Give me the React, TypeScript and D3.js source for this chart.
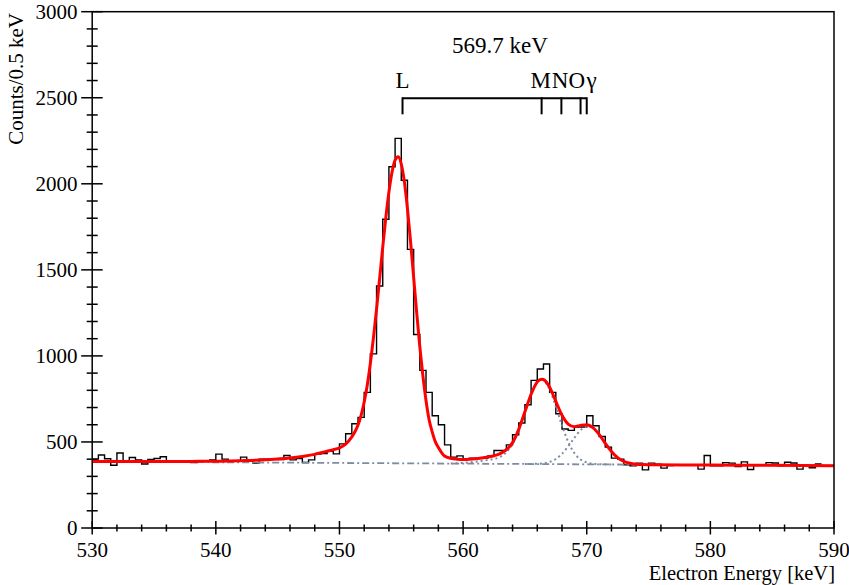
import React from "react";
import * as d3 from "d3";

// ---------- data ----------
const binLow = 530;
const binWidth = 0.5;
const counts = [
  400, 424, 402, 365, 436, 385, 410, 395, 372, 398, 404, 414, 388, 388, 390, 382, 380, 384, 390, 395,
  429, 400, 390, 390, 412, 390, 377, 400, 400, 402, 398, 421, 396, 403, 381, 396, 430, 432, 445, 431,
  489, 548, 606, 643, 788, 1012, 1406, 1794, 2099, 2264, 2021, 1619, 1124, 916, 788, 652, 600, 483, 412, 419,
  400, 406, 406, 406, 419, 450, 450, 483, 542, 610, 716, 858, 924, 953, 788, 664, 575, 567, 587, 587,
  652, 594, 532, 470, 406, 400, 367, 361, 377, 338, 377, 371, 348, 363, 365, 366, 366, 365, 342, 421,
  361, 361, 380, 377, 357, 384, 340, 367, 365, 380, 378, 361, 382, 378, 342, 364, 350, 372,
];

// total fit (red)
const fitE = [
  530, 532, 534, 536, 538, 540, 542, 544, 545, 546, 547, 548, 548.5, 549, 549.5, 550, 550.5, 551,
  551.25, 551.5, 551.75, 552, 552.25, 552.5, 552.75, 553, 553.25, 553.5, 553.75, 554, 554.25, 554.5,
  554.75, 555, 555.25, 555.5, 555.75, 556, 556.25, 556.5, 556.75, 557, 557.25, 557.5, 557.75, 558,
  558.5, 559, 559.5, 560, 560.5, 561, 561.5, 562, 562.5, 563, 563.5, 564, 564.5, 565, 565.5, 566,
  566.35, 566.5, 567, 567.5, 568, 568.5, 569, 569.5, 570, 570.5, 571, 571.5, 572, 572.5, 573, 573.5,
  574, 574.5, 575, 580, 585, 590,
];
const fitY = [
  386, 386, 386, 386, 387, 388, 391, 396, 401, 407, 416, 428, 437, 446, 455, 466, 488, 530,
  559, 598, 655, 732, 831, 957, 1106, 1272, 1451, 1632, 1804, 1952, 2067, 2137,
  2157, 2115, 2011, 1855, 1665, 1456, 1248, 1053, 882, 741, 629, 559, 502, 468,
  418, 405, 400, 398, 399, 402, 407, 413, 420, 432, 455, 496, 573, 675, 777, 849,
  865, 863, 818, 736, 655, 604, 589, 596, 600, 583, 544, 492, 445, 409, 387, 376,
  371, 369, 368, 366, 364, 362,
];

// background (dash-dot)
const bgE = [530, 590];
const bgY = [386, 362];

// M-line component (dotted)
const mE = [559, 560, 561, 562, 562.5, 563, 563.5, 564, 564.5, 565, 565.5, 566, 566.35, 566.5, 567, 567.5, 568, 568.5, 569, 569.5, 570, 570.5, 571, 572];
const mY = [375, 378, 385, 395, 401, 413, 440, 488, 568, 672, 776, 848, 861, 857, 805, 706, 595, 501, 435, 398, 381, 373, 371, 369];

// N/O-line component (dotted)
const noE = [565, 566, 566.5, 567, 567.5, 568, 568.5, 569, 569.5, 570, 570.1, 570.5, 571, 571.5, 572, 572.5, 573, 573.5, 574, 574.5, 575];
const noY = [372, 373, 376, 384, 401, 431, 474, 524, 568, 589, 590, 580, 543, 492, 445, 409, 387, 376, 371, 369, 368];

// line markers
const lineLabels = ["L", "M", "N", "O", "γ"];
const lineEnergies = [555.1, 566.35, 567.95, 569.5, 570.0];
const gammaLabel = "569.7 keV";

const xMajorTicks = [530, 540, 550, 560, 570, 580, 590];
const yMajorTicks = [0, 500, 1000, 1500, 2000, 2500, 3000];
const xMinorStep = 2;
const yMinorStep = 100;

const xTitle = "Electron Energy [keV]";
const yTitle = "Counts/0.5 keV";

// ---------- layout ----------
const W = 849;
const H = 585;
const left = 92.2;
const right = 834;
const top = 11.7;
const bottom = 528;
const FONT = "'Liberation Serif', 'Times New Roman', serif";
const COMP = "#7d8ca3";

export default function App() {
  const x = d3.scaleLinear().domain([530, 590]).range([left, right]);
  const y = d3.scaleLinear().domain([0, 3000]).range([bottom, top]);

  const histPts: [number, number][] = counts.map((c, i) => [binLow + i * binWidth, c]);
  histPts.push([binLow + counts.length * binWidth, counts[counts.length - 1]]);
  const histPath = d3
    .line<[number, number]>()
    .x((d) => x(d[0]))
    .y((d) => y(d[1]))
    .curve(d3.curveStepAfter)(histPts) as string;

  const smooth = (es: number[], ys: number[]) =>
    d3
      .line<number>()
      .x((_, i) => x(es[i]))
      .y((_, i) => y(ys[i]))
      .curve(d3.curveMonotoneX)(es.map((e) => e)) as string;

  const fitPath = smooth(fitE, fitY);
  const mPath = smooth(mE, mY);
  const noPath = smooth(noE, noY);
  const bgPath = smooth(bgE, bgY);

  const xMinor = d3.range(530, 590.001, xMinorStep).filter((v) => !xMajorTicks.includes(v));
  const yMinor = d3.range(0, 3000.001, yMinorStep).filter((v) => !yMajorTicks.includes(v));

  const barY = 98.3;
  const legBottom = 114.3;
  const xs = lineEnergies.map((e) => x(e));
  const labelXs = [xs[0], 540.8, 560, 576.7, 591.7];

  return (
    <svg
      width={W}
      height={H}
      style={{ position: "absolute", left: 0, top: 0, background: "#fff" }}
      fontFamily={FONT}
    >
      <rect x={0} y={0} width={W} height={H} fill="#fff" />
      {/* histogram */}
      <path d={histPath} fill="none" stroke="#000" strokeWidth={1.4} />
      {/* background */}
      <path d={bgPath} fill="none" stroke={COMP} strokeWidth={1.8} strokeDasharray="7,3,2,3" />
      {/* components */}
      <path d={mPath} fill="none" stroke={COMP} strokeWidth={2} strokeDasharray="2,3" />
      <path d={noPath} fill="none" stroke={COMP} strokeWidth={2} strokeDasharray="2,3" />
      {/* total fit */}
      <path d={fitPath} fill="none" stroke="#ff0000" strokeWidth={3} strokeLinejoin="round" />

      {/* frame */}
      <rect x={left} y={top} width={right - left} height={bottom - top} fill="none" stroke="#000" strokeWidth={1.5} />

      {/* x ticks */}
      {xMajorTicks.map((t) => (
        <line key={"xM" + t} x1={x(t)} x2={x(t)} y1={bottom - 7} y2={bottom + 6.5} stroke="#000" strokeWidth={1.5} />
      ))}
      {xMinor.map((t) => (
        <line key={"xm" + t} x1={x(t)} x2={x(t)} y1={bottom - 3.5} y2={bottom + 3.5} stroke="#000" strokeWidth={1.5} />
      ))}
      {xMajorTicks.map((t) => (
        <text key={"xl" + t} x={x(t)} y={556.5} fontSize={21} textAnchor="middle" fill="#000">
          {String(t)}
        </text>
      ))}

      {/* y ticks */}
      {yMajorTicks.map((t) => (
        <line key={"yM" + t} x1={left - 11} x2={left + 10.5} y1={y(t)} y2={y(t)} stroke="#000" strokeWidth={1.5} />
      ))}
      {yMinor.map((t) => (
        <line key={"ym" + t} x1={left - 5.5} x2={left + 5.5} y1={y(t)} y2={y(t)} stroke="#000" strokeWidth={1.5} />
      ))}
      {yMajorTicks.map((t) => (
        <text key={"yl" + t} x={77.5} y={y(t) + 7.2} fontSize={21} textAnchor="end" fill="#000">
          {String(t)}
        </text>
      ))}

      {/* axis titles */}
      <text x={835} y={579.5} fontSize={20.5} textAnchor="end" fill="#000">
        {xTitle}
      </text>
      <text transform="translate(23,13) rotate(-90)" fontSize={21} textAnchor="end" fill="#000">
        {yTitle}
      </text>

      {/* line bracket */}
      <line x1={xs[0]} x2={xs[xs.length - 1]} y1={barY} y2={barY} stroke="#000" strokeWidth={2} />
      {xs.map((xx, i) => (
        <line key={"leg" + i} x1={xx} x2={xx} y1={barY - 1} y2={legBottom} stroke="#000" strokeWidth={2} />
      ))}
      {lineLabels.map((l, i) => (
        <text key={"ll" + i} x={labelXs[i]} y={88.3} fontSize={23} textAnchor="middle" fill="#000">
          {l}
        </text>
      ))}
      <text x={500} y={53.3} fontSize={23} textAnchor="middle" fill="#000">
        {gammaLabel}
      </text>
    </svg>
  );
}
